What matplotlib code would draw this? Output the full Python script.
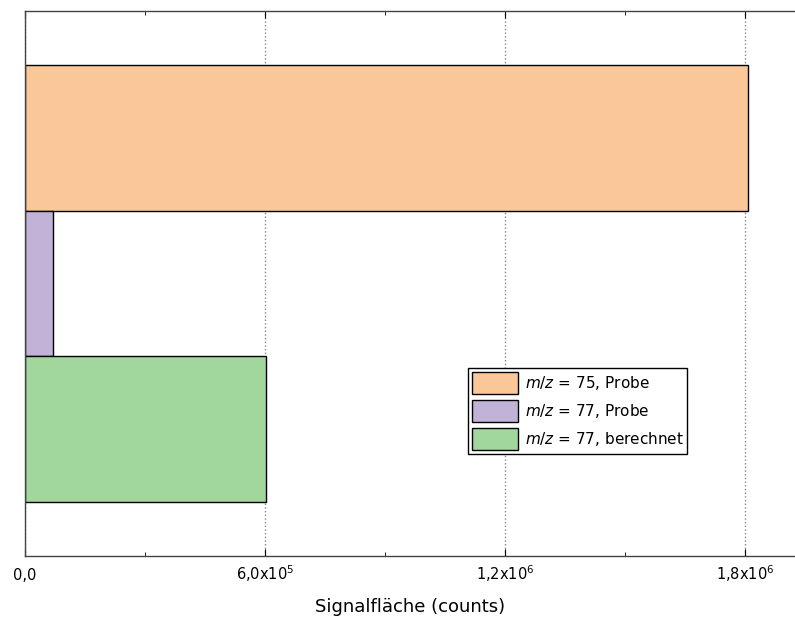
import matplotlib.pyplot as plt
from matplotlib.ticker import FixedLocator, FuncFormatter

# data
labels = ['$m/z$ = 75, Probe', '$m/z$ = 77, Probe', '$m/z$ = 77, berechnet']
values = [1.8075e6, 7.0e4, 6.025e5]
colors = ['#FAC898', '#C1B2D7', '#A1D69D']
tick_vals = [0, 6.0e5, 1.2e6, 1.8e6]
tick_labels = ['0,0', r'6,0x10$^5$', r'1,2x10$^6$', r'1,8x10$^6$']
minor_vals = [3.0e5, 9.0e5, 1.5e6]

plt.rcParams['font.family'] = ['DejaVu Sans']
plt.rcParams['mathtext.fontset'] = 'dejavusans'

fig = plt.figure(figsize=(7.95, 6.29), dpi=100)
ax = fig.add_axes([25 / 795, 73 / 629, 1 - 25 / 795, 545 / 629])

ypos = [2, 1, 0]
for y, v, c, lab in zip(ypos, values, colors, labels):
    ax.barh(y, v, height=1.0, color=c, edgecolor='black', linewidth=1.0, label=lab, zorder=2)

ax.set_xlim(0, 1.925e6)
ax.set_ylim(-0.871, 2.871)
ax.set_yticks([])

ax.xaxis.set_major_locator(FixedLocator(tick_vals))
ax.xaxis.set_major_formatter(FuncFormatter(lambda x, pos: tick_labels[pos] if pos is not None and pos < len(tick_labels) else ''))
ax.xaxis.set_minor_locator(FixedLocator(minor_vals))
ax.tick_params(axis='x', which='both', direction='in', top=True, bottom=True, labelsize=10.5, pad=17)
ax.tick_params(axis='x', which='major', length=5)
ax.tick_params(axis='x', which='minor', length=3)
for t in ax.get_xticklabels():
    t.set_verticalalignment('baseline')
ax.grid(True, axis='x', which='major', linestyle=':', color='#888888', linewidth=1.0, zorder=0)
ax.set_axisbelow(True)

for s in ['left', 'top', 'bottom']:
    ax.spines[s].set_color('#444444')
    ax.spines[s].set_linewidth(1.0)
ax.spines['right'].set_visible(False)

ax.set_xlabel('Signalfläche (counts)', fontsize=13, labelpad=10)

leg = ax.legend(loc='upper left', bbox_to_anchor=(443 / 770, 1 - 357 / 545), fontsize=11,
                frameon=True, fancybox=False, edgecolor='black', framealpha=1,
                handlelength=3.0, handleheight=1.85, handletextpad=0.45, borderpad=0.25,
                labelspacing=0.4, borderaxespad=0)
leg.get_frame().set_linewidth(1.0)

fig.savefig('out.png', dpi=100)
